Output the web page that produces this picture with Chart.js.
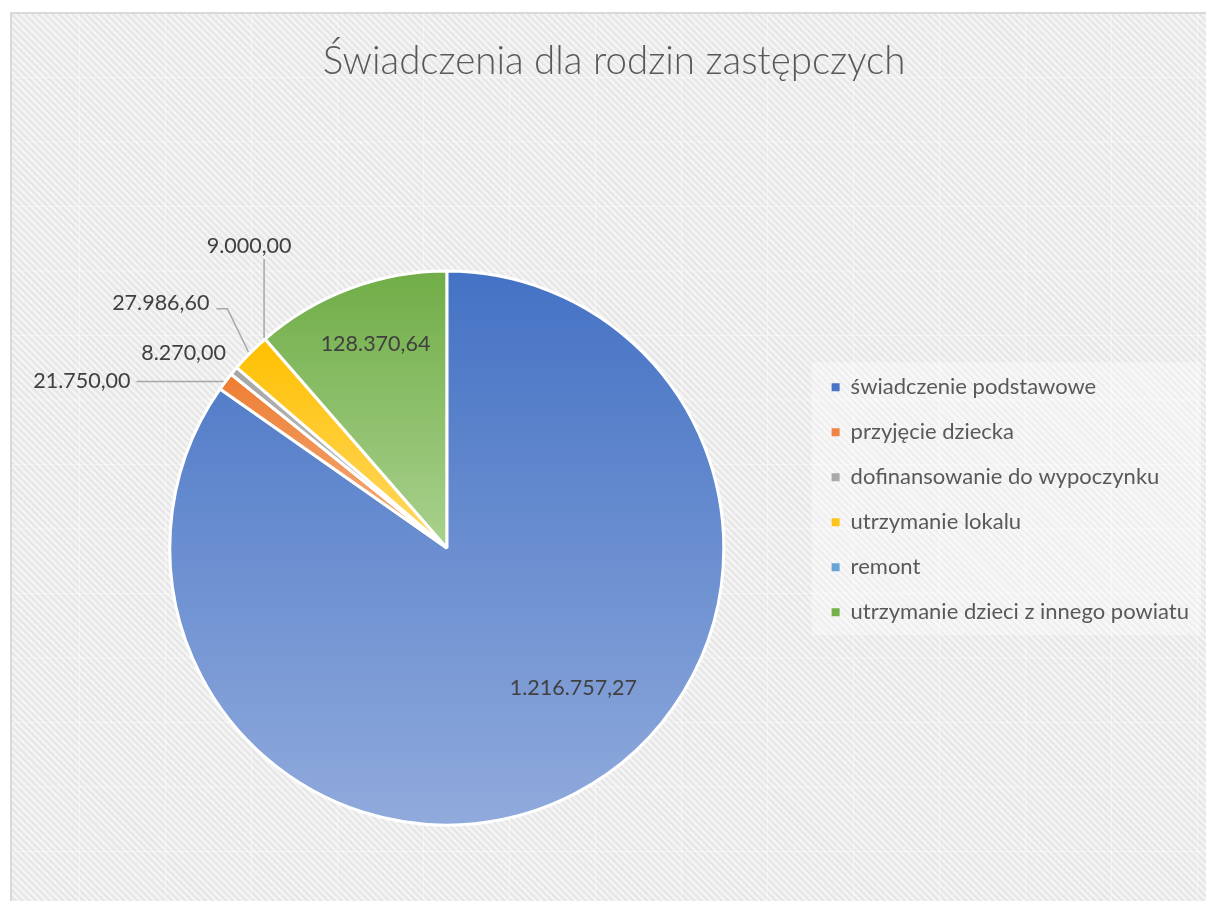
<!DOCTYPE html>
<html lang="pl">
<head>
<meta charset="utf-8">
<title>Świadczenia dla rodzin zastępczych</title>
<script src="https://cdn.jsdelivr.net/npm/chart.js@4.4.1/dist/chart.umd.min.js"></script>
<style>
  html, body { margin: 0; padding: 0; background: #fff; overflow: hidden; }
  #wrap { position: relative; width: 1206px; height: 901px; overflow: hidden; }
  /* tło obszaru wykresu: ukośne paski + jasne szwy kafelków */
  #tlo {
    position: absolute; left: 10px; top: 12px; width: 1210px; height: 900px;
    border-left: 2px solid #d9d9d9; border-top: 2px solid #d9d9d9;
    background:
      linear-gradient(90deg, rgba(255,255,255,.4) 0 1px, transparent 1px) 67px 0 / 86px 100% repeat-x,
      linear-gradient(180deg, rgba(255,255,255,.4) 0 1px, transparent 1px) 0 63px / 100% 64.5px repeat-y,
      repeating-linear-gradient(45deg, #f8f8f8 0px, #e3e3e3 2.4px, #f8f8f8 4.8px);
  }
  canvas { position: absolute; left: 0; top: 0; }
</style>
</head>
<body>
<div id="wrap">
  <div id="tlo"></div>
  <canvas id="wykres" width="1206" height="901"></canvas>
</div>
<script>
const kategorie = [
  "świadczenie podstawowe",
  "przyjęcie dziecka",
  "dofinansowanie do wypoczynku",
  "utrzymanie lokalu",
  "remont",
  "utrzymanie dzieci z innego powiatu",
];
// kwoty wypisane na etykietach danych
const kwoty = ["1.216.757,27", "21.750,00", "8.270,00", "27.986,60", "9.000,00", "128.370,64"];
// wielkość wycinków (% koła) - w oryginale nie zgadza się z kwotami
const udzialy = [84.75, 1.06, 0.50, 2.31, 0, 11.39];

const koloryGora = ["#4472c4", "#ed7d31", "#a5a5a5", "#ffc000", "#5b9bd5", "#70ad47"];
const koloryDol = ["#90aadc", "#f4b183", "#cacaca", "#ffd966", "#9dc3e6", "#a9d18e"];
const koloryLegendy = ["#4a74c6", "#ef8244", "#a9a9a9", "#ffc41a", "#67a2d8", "#75b04d"];

const PROMIEN = 277;

// gdzie stoją etykiety: wew = w środku wycinka, zew = obok z linią odniesienia
const rozkladEtykiet = [
  { typ: "wew", t: 0.4517, k: 0.68 },
  { typ: "zew", tekst: [-95, 0], align: "right", linia: [[-2, 0], [-89, 0]] },
  { typ: "zew", tekst: [-8, -18], align: "right", linia: null },
  { typ: "zew", tekst: [-41, -50], align: "right", linia: [[-2, -1], [-23, -44], [-34, -44]] },
  { typ: "zew", tekst: [-16, -93], align: "center", linia: [[-1, -1], [-1, -80]] },
  { typ: "wew", t: 0.53, k: 0.78 },
];

function gradientWycinka(c) {
  const chart = c.chart;
  const area = chart.chartArea;
  const i = c.dataIndex;
  if (!area || i === undefined) return koloryGora[i || 0];
  const suma = udzialy.reduce((a, b) => a + b, 0);
  const przed = udzialy.slice(0, i).reduce((a, b) => a + b, 0);
  const a0 = -Math.PI / 2 + (2 * Math.PI * przed) / suma;
  const a1 = a0 + (2 * Math.PI * udzialy[i]) / suma;
  const cy = (area.top + area.bottom) / 2;
  const ys = [cy, cy + PROMIEN * Math.sin(a0), cy + PROMIEN * Math.sin(a1)];
  [Math.PI / 2, (3 * Math.PI) / 2].forEach((k) => {
    if (k > a0 && k < a1) ys.push(cy + PROMIEN * Math.sin(k));
  });
  let y0 = Math.min(...ys), y1 = Math.max(...ys);
  if (y1 - y0 < 1) y1 = y0 + 1;
  const g = chart.ctx.createLinearGradient(0, y0, 0, y1);
  g.addColorStop(0, koloryGora[i]);
  g.addColorStop(1, koloryDol[i]);
  return g;
}

// jaśniejsze pole pod legendą
const tloLegendy = {
  id: "tloLegendy",
  beforeDraw(chart) {
    const boxes = chart.legend && chart.legend.legendHitBoxes;
    if (!boxes || !boxes.length) return;
    const left = Math.min(...boxes.map((b) => b.left)) - 20;
    const right = Math.max(...boxes.map((b) => b.left + b.width)) + 12;
    const top = boxes[0].top - 14;
    const bottom = boxes[boxes.length - 1].top + boxes[boxes.length - 1].height + 12;
    const ctx = chart.ctx;
    ctx.save();
    ctx.fillStyle = "rgba(255,255,255,0.35)";
    ctx.fillRect(left, top, right - left, bottom - top);
    ctx.restore();
  },
};

const etykietyDanych = {
  id: "etykietyDanych",
  afterDatasetsDraw(chart) {
    const ctx = chart.ctx;
    const meta = chart.getDatasetMeta(0);
    ctx.save();
    ctx.font = "21.5px Lato";
    ctx.fillStyle = "#404040";
    ctx.textBaseline = "middle";
    ctx.strokeStyle = "#a6a6a6";
    ctx.lineWidth = 1.5;
    meta.data.forEach((arc, i) => {
      const { x, y, startAngle, endAngle, outerRadius } = arc.getProps(
        ["x", "y", "startAngle", "endAngle", "outerRadius"], true);
      const u = rozkladEtykiet[i];
      if (u.typ === "wew") {
        const a = startAngle + (endAngle - startAngle) * u.t;
        ctx.textAlign = "center";
        ctx.fillText(kwoty[i], x + Math.cos(a) * outerRadius * u.k, y + Math.sin(a) * outerRadius * u.k);
      } else {
        const a = (startAngle + endAngle) / 2;
        const ax = x + Math.cos(a) * outerRadius;
        const ay = y + Math.sin(a) * outerRadius;
        if (u.linia) {
          ctx.beginPath();
          u.linia.forEach(([dx, dy], j) => {
            if (j === 0) ctx.moveTo(ax + dx, ay + dy);
            else ctx.lineTo(ax + dx, ay + dy);
          });
          ctx.stroke();
        }
        ctx.textAlign = u.align;
        ctx.fillText(kwoty[i], ax + u.tekst[0], ay + u.tekst[1]);
      }
    });
    ctx.restore();
  },
};

new Chart(document.getElementById("wykres"), {
  type: "pie",
  data: {
    labels: kategorie,
    datasets: [{
      data: udzialy,
      backgroundColor: gradientWycinka,
      borderColor: "#ffffff",
      borderWidth: 3,
      radius: PROMIEN,
    }],
  },
  options: {
    responsive: false,
    animation: false,
    events: [],
    layout: { padding: { left: 29, right: 7, top: 0, bottom: 0 } },
    plugins: {
      tooltip: { enabled: false },
      title: {
        display: true,
        text: "Świadczenia dla rodzin zastępczych",
        color: "#595959",
        font: { family: "Lato", size: 38.5, weight: "300" },
        padding: { top: 38, bottom: 111 },
      },
      // pusty pasek po lewej - odsuwa koło od krawędzi
      subtitle: {
        display: true,
        position: "left",
        fullSize: false,
        text: "",
        font: { size: 10 },
        padding: { top: 44, bottom: 0 },
      },
      legend: {
        position: "right",
        align: "start",
        fullSize: false,
        maxWidth: 396,
        title: { display: true, text: "", font: { size: 10 }, padding: { top: 146, bottom: 0 } },
        labels: {
          boxWidth: 8,
          boxHeight: 8,
          padding: 23,
          color: "#595959",
          font: { family: "Lato", size: 22 },
          generateLabels: () => kategorie.map((t, i) => ({
            text: t,
            fillStyle: koloryLegendy[i],
            strokeStyle: koloryLegendy[i],
            lineWidth: 0,
            fontColor: "#595959",
            hidden: false,
            index: i,
          })),
        },
      },
    },
  },
  plugins: [tloLegendy, etykietyDanych],
});
</script>
</body>
</html>
